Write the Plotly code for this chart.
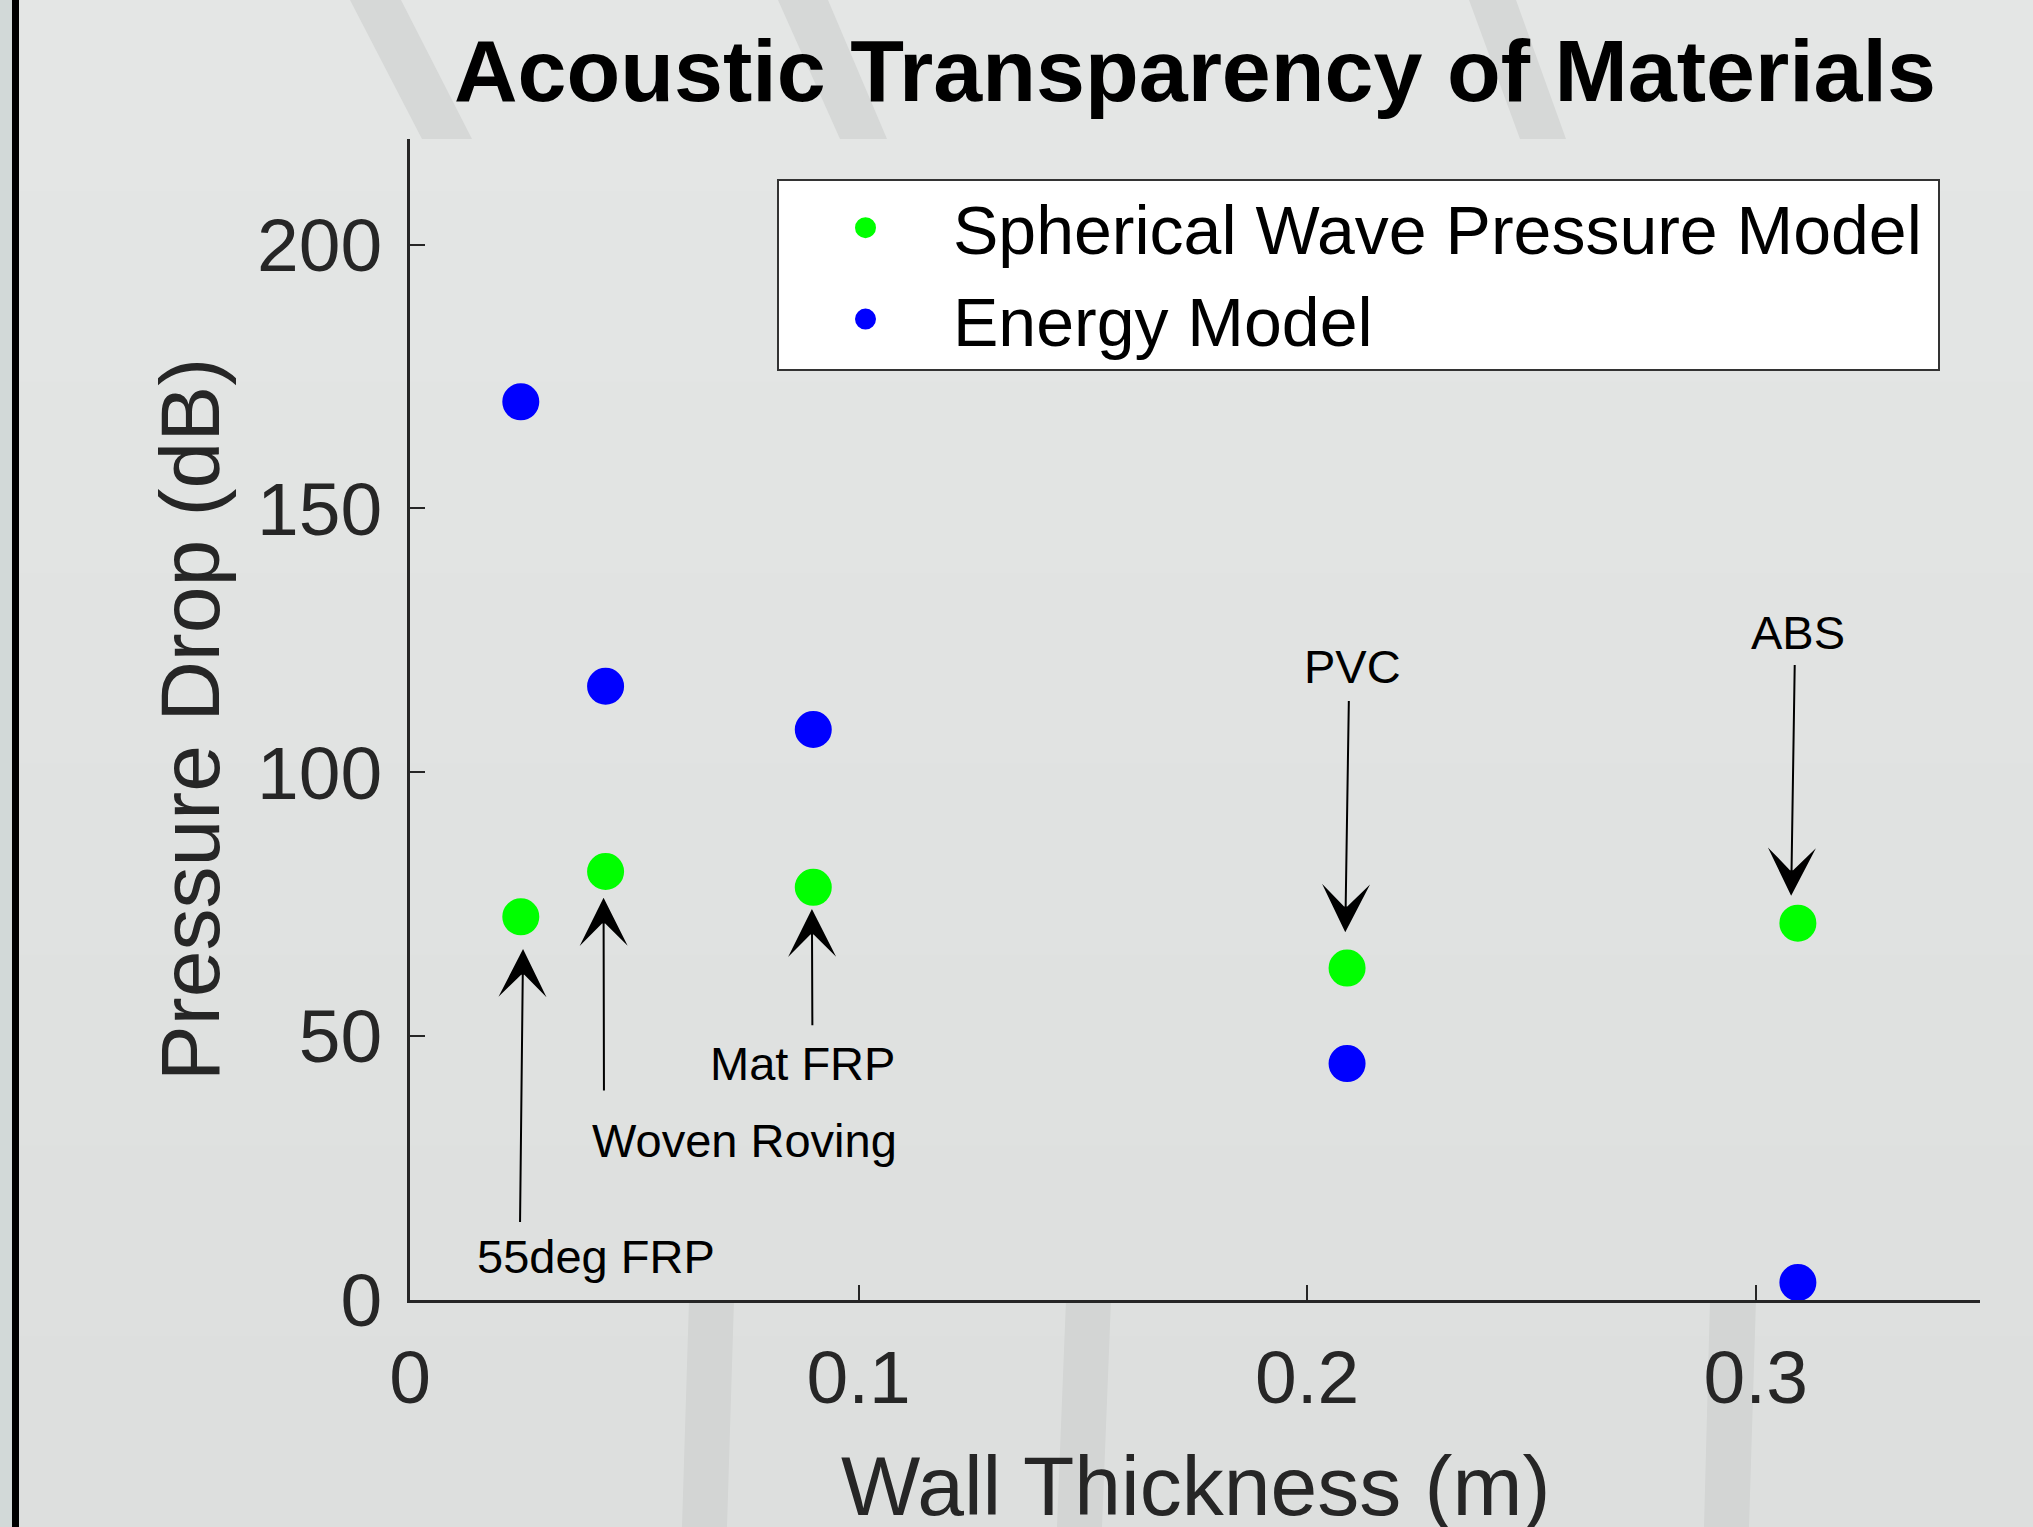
import plotly.graph_objects as go

# ---------------- data ----------------
materials = ["55deg FRP", "Woven Roving", "Mat FRP", "PVC", "ABS"]
thickness = [0.0247, 0.0436, 0.0899, 0.2089, 0.3094]
spherical_wave = [72.6, 81.2, 78.2, 62.9, 71.4]
energy_model = [170.2, 116.3, 108.1, 44.8, 3.3]

# annotation label positions (data coords) and arrow head / tail positions
label_x = [0.04136, 0.0745, 0.0876, 0.2102, 0.3094]
label_y = [8.15, 30.3, 44.9, 120.1, 126.4]
arrow_head_x = [0.0252, 0.04315, 0.0896, 0.2085, 0.3079]
arrow_head_y = [66.5, 76.2, 74.1, 69.7, 76.6]
arrow_tail_x = [0.02453, 0.04324, 0.0897, 0.2093, 0.3087]
arrow_tail_y = [14.5, 39.4, 51.8, 113.8, 120.6]

x_ticks = [0, 0.1, 0.2, 0.3]
x_ticklabels = ["0", "0.1", "0.2", "0.3"]
y_ticks = [0, 50, 100, 150, 200]
y_ticklabels = ["0", "50", "100", "150", "200"]

# ---------------- geometry ----------------
W, H = 2033, 1527
ML, MR, MT, MB = 410, 53, 139, 227
PL, PR, PT, PB = ML, W - MR, MT, H - MB

def X(px):
    return (px - PL) / (PR - PL)

def Y(py):
    return (PB - py) / (PB - PT)

FONT = "Liberation Sans, Arial, Helvetica, sans-serif"
AXC = "#262626"

fig = go.Figure()
fig.add_trace(go.Scatter(
    x=thickness, y=spherical_wave, mode="markers",
    name="Spherical Wave Pressure Model",
    marker=dict(color="#00FF00", size=32, line=dict(width=5, color="#00FF00")),
))
fig.add_trace(go.Scatter(
    x=thickness, y=energy_model, mode="markers",
    name="Energy Model",
    marker=dict(color="#0000FF", size=32, line=dict(width=5, color="#0000FF")),
))

shapes = []
# background vertical gradient bands
bands = ["#E4E6E5", "#E3E5E4", "#E2E4E3", "#E1E3E2", "#E0E2E1", "#DFE1E0", "#DEE0DF", "#DDDFDE"]
nb = len(bands)
for i, c in enumerate(bands):
    y0 = H * i / nb
    y1 = H * (i + 1) / nb + 1
    shapes.append(dict(type="rect", xref="paper", yref="paper",
                       x0=X(0), x1=X(W), y0=Y(y1), y1=Y(y0),
                       fillcolor=c, line=dict(width=0), layer="below"))

def poly(pts, color):
    d = "M " + " L ".join(f"{X(a):.5f},{Y(b):.5f}" for a, b in pts) + " Z"
    return dict(type="path", xref="paper", yref="paper", path=d,
                fillcolor=color, line=dict(width=0), layer="below")

streak_top = "#D6D8D7"
streak_bot = "#D3D5D4"
shapes += [
    poly([(350, 0), (401, 0), (472, PT), (422, PT)], streak_top),
    poly([(778, 0), (828, 0), (887, PT), (840, PT)], streak_top),
    poly([(1469, 0), (1516, 0), (1566, PT), (1520, PT)], streak_top),
    poly([(689, PB), (734, PB), (727, H), (682, H)], streak_bot),
    poly([(1066, PB), (1111, PB), (1102, H), (1057, H)], streak_bot),
    poly([(1710, PB), (1756, PB), (1749, H), (1704, H)], streak_bot),
]
# left edge strip and black bar
shapes.append(dict(type="rect", xref="paper", yref="paper", x0=X(0), x1=X(12),
                   y0=Y(H), y1=Y(0), fillcolor="#D2D9D8", line=dict(width=0), layer="below"))
shapes.append(dict(type="rect", xref="paper", yref="paper", x0=X(12), x1=X(19),
                   y0=Y(H), y1=Y(0), fillcolor="#000000", line=dict(width=0), layer="below"))
# legend box
shapes.append(dict(type="rect", xref="paper", yref="paper", x0=X(778), x1=X(1939),
                   y0=Y(370), y1=Y(180), fillcolor="#FFFFFF",
                   line=dict(color="#333333", width=2), layer="above"))

annotations = []
for i in range(len(materials)):
    annotations.append(dict(
        x=arrow_head_x[i], y=arrow_head_y[i], xref="x", yref="y",
        ax=arrow_tail_x[i], ay=arrow_tail_y[i], axref="x", ayref="y",
        text="", showarrow=True, arrowhead=3, arrowsize=4.0, arrowwidth=2,
        arrowcolor="#000000", standoff=0, startstandoff=0,
    ))
    annotations.append(dict(
        x=label_x[i], y=label_y[i], xref="x", yref="y",
        text=materials[i], showarrow=False, xanchor="center", yanchor="middle",
        font=dict(family=FONT, size=47, color="#000000"),
    ))

# x-axis title (placed as paper annotation so it can sit at the bottom edge like the original)
annotations.append(dict(
    x=X((PL + PR) / 2), y=Y(1486), xref="paper", yref="paper",
    text="Wall Thickness (m)", showarrow=False, xanchor="center", yanchor="middle",
    font=dict(family=FONT, size=84, color=AXC),
))

fig.update_layout(
    width=W, height=H, autosize=False,
    margin=dict(l=ML, r=MR, t=MT, b=MB, pad=0),
    paper_bgcolor="#E2E4E3",
    plot_bgcolor="#FFFFFF",
    font=dict(family=FONT, color=AXC),
    title=dict(
        text="Acoustic Transparency of Materials",
        x=X((PL + PR) / 2), xref="paper", xanchor="center",
        y=1 - 70 / H, yref="container", yanchor="middle",
        font=dict(family=FONT, size=88, color="#000000", weight="bold"),
    ),
    xaxis=dict(
        range=[0, 0.35], tickvals=x_ticks, ticktext=x_ticklabels,
        ticks="inside", ticklen=15, tickwidth=2, tickcolor=AXC,
        showline=True, linecolor=AXC, linewidth=2.5, mirror=False,
        showgrid=False, zeroline=False,
        tickfont=dict(family=FONT, size=75, color=AXC),
        ticklabelstandoff=10,
        automargin=False,
    ),
    yaxis=dict(
        range=[0, 220], tickvals=y_ticks, ticktext=y_ticklabels,
        ticks="inside", ticklen=15, tickwidth=2, tickcolor=AXC,
        showline=True, linecolor=AXC, linewidth=2.5, mirror=False,
        showgrid=False, zeroline=False,
        tickfont=dict(family=FONT, size=75, color=AXC),
        ticklabelstandoff=10,
        title=dict(text="Pressure Drop (dB)", font=dict(family=FONT, size=84, color=AXC),
                   standoff=10),
        automargin=False,
    ),
    showlegend=True,
    legend=dict(
        x=X(778), y=Y(177), xref="paper", yref="paper",
        xanchor="left", yanchor="top",
        bgcolor="rgba(0,0,0,0)", borderwidth=0,
        itemwidth=165,
        font=dict(family=FONT, size=68, color="#000000"),
        tracegroupgap=0,
    ),
    shapes=shapes,
    annotations=annotations,
)

fig.write_html(
    "out.html",
    config={"displayModeBar": False},
    post_script="document.body.style.margin='0px';document.body.style.overflow='hidden';",
)
